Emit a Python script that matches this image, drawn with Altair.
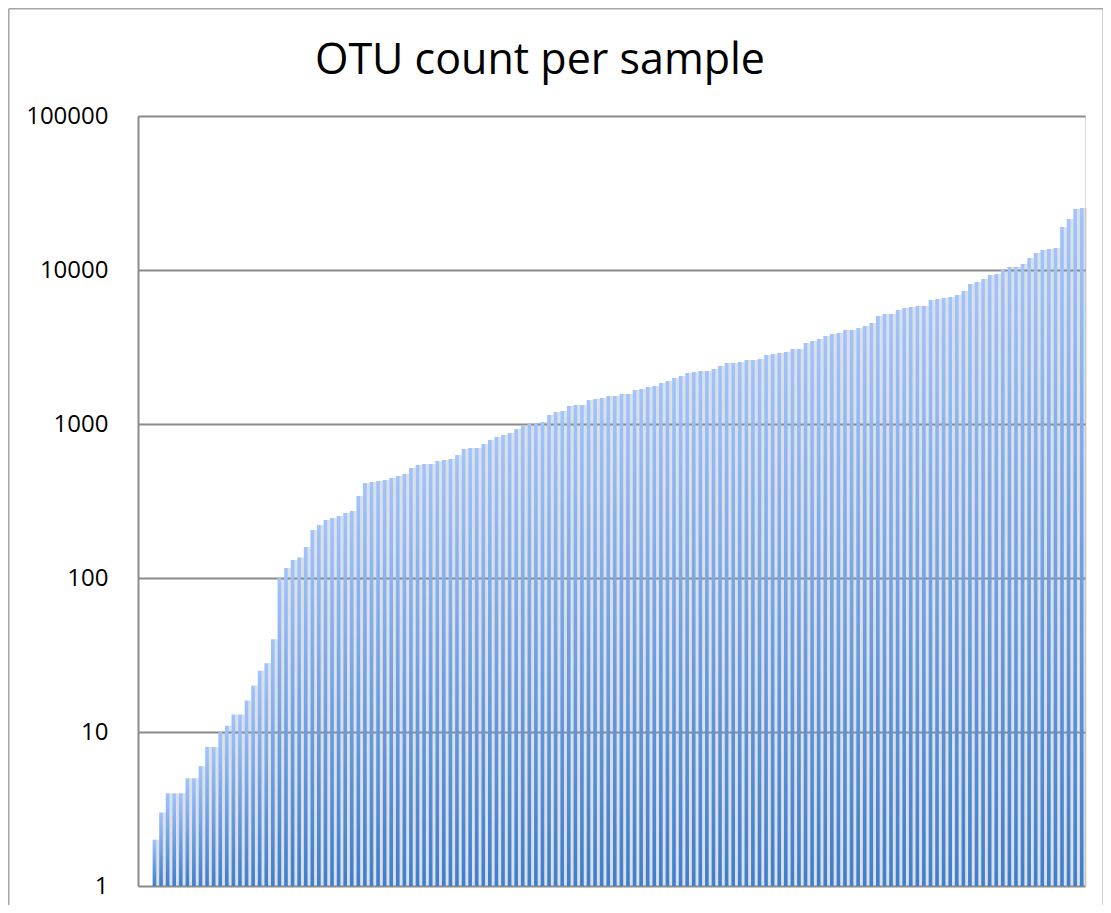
import altair as alt
import pandas as pd

TITLE = "OTU count per sample"

otu_counts = [
    1, 1, 2, 3, 4, 4, 4, 5, 5, 6, 8, 8, 10, 11, 13, 13, 16, 20, 25, 28, 40, 100, 116, 131, 136,
    159, 205, 221, 238, 245, 253, 264, 272, 341, 414, 420, 426, 433, 446, 460, 474, 518, 542, 550, 550, 575, 584, 593, 629,
    688, 698, 698, 741, 787, 823, 848, 874, 928, 970, 1000, 1015, 1030, 1143, 1197, 1214, 1308, 1328, 1328, 1432, 1453, 1475, 1520, 1520,
    1566, 1566, 1662, 1687, 1739, 1766, 1846, 1902, 1990, 2050, 2144, 2177, 2209, 2209, 2275, 2381, 2489, 2489, 2527, 2604, 2604, 2643, 2806, 2849, 2892, 2936, 3070, 3070, 3357,
    3459, 3565, 3727, 3840, 3899, 4076, 4076, 4200, 4329, 4526, 5026, 5180, 5180, 5497, 5666, 5752, 5839, 5839, 6387, 6484,
    6579, 6678, 6880, 7305, 8111, 8358, 8746, 9286, 9422, 10000, 10450, 10450, 10940, 11965, 12890, 13490, 13690, 13900, 19020, 21440, 24900, 25290,
]
sample_ids = list(range(1, len(otu_counts) + 1))
y_ticks = [1, 10, 100, 1000, 10000, 100000]

df = pd.DataFrame({"sample": sample_ids, "otus": otu_counts})
one = pd.DataFrame({"t": [TITLE]})

FONT = "Open Sans"
GRID = "#8a8a8a"

xenc = alt.X("sample:O", axis=None,
             scale=alt.Scale(paddingInner=0.44, paddingOuter=0.22))
yenc = alt.Y("otus:Q",
             scale=alt.Scale(type="log", domain=[1, 100000], nice=False),
             axis=alt.Axis(values=y_ticks, format="d", title=None,
                           labelFont=FONT, labelFontSize=24, labelColor="#000000",
                           labelPadding=30, ticks=False,
                           domain=True, domainColor=GRID, domainWidth=2,
                           grid=True, gridColor=GRID, gridWidth=2))
y2enc = alt.Y2(datum=1)

bar_fill = {
    "gradient": "linear", "x1": 0, "y1": 1, "x2": 0, "y2": 0,
    "stops": [
        {"offset": 0, "color": "#3d7fd0"},
        {"offset": 1, "color": "#9fc4ff"},
    ],
}

shadow = alt.Chart(df).mark_bar(fill="#8c8c8c", fillOpacity=0.28, xOffset=3).encode(
    x=xenc, y=yenc, y2=y2enc)
bars = alt.Chart(df).mark_bar(fill=bar_fill).encode(x=xenc, y=yenc, y2=y2enc)

title = alt.Chart(one).mark_text(
    font=FONT, fontSize=43, align="center", baseline="alphabetic", color="#000000"
).encode(x=alt.value(402), y=alt.value(-42), text="t:N")

frame_col = "#a6a6a6"
frame_left = alt.Chart(one).mark_rule(color=frame_col, strokeWidth=1.5).encode(
    x=alt.value(-129.25), y=alt.value(-107.25), y2=alt.value(789))
frame_top = alt.Chart(one).mark_rule(color=frame_col, strokeWidth=1.5).encode(
    x=alt.value(-129.25), x2=alt.value(965.25), y=alt.value(-107.25))
frame_right = alt.Chart(one).mark_rule(color=frame_col, strokeWidth=1.5).encode(
    x=alt.value(965.25), y=alt.value(-107.25), y2=alt.value(789))

chart = alt.layer(shadow, bars, title, frame_left, frame_top, frame_right).properties(
    width=947, height=770,
    autosize=alt.AutoSizeParams(type="none"),
    padding={"left": 130, "top": 108, "right": 18, "bottom": 19},
).configure_view(stroke=None).configure(background="white")

chart.save("out.html", embed_options={"renderer": "svg", "actions": False})
